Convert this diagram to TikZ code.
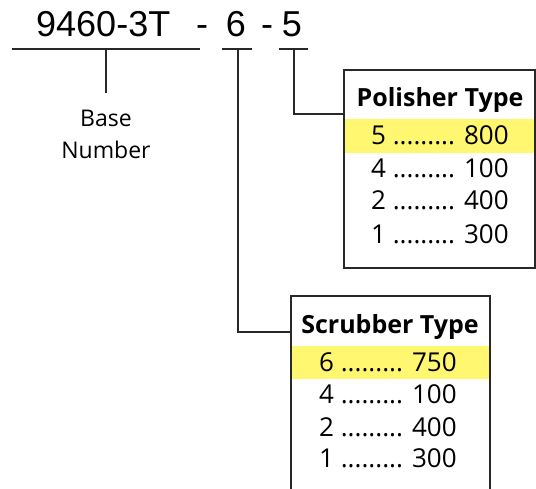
\documentclass[tikz,border=0pt]{standalone}
\usepackage{fontspec}
\setmainfont{Open Sans}
\newfontfamily\arialf{Liberation Sans}
\definecolor{hl}{RGB}{255,247,112}
\definecolor{ln}{RGB}{40,40,40}
\begin{document}
\begin{tikzpicture}[x=1bp,y=-1bp,
  big/.style={font=\arialf\fontsize{36bp}{40bp}\selectfont,inner sep=0,anchor=base},
  lbl/.style={font=\fontsize{23bp}{32bp}\selectfont,inner sep=0,anchor=base},
  row/.style={font=\fontsize{26bp}{28bp}\selectfont,inner sep=0,anchor=base west},
  ttl/.style={font=\bfseries\fontsize{25bp}{28bp}\selectfont,inner sep=0,anchor=base},
  uline/.style={line width=2bp,ln},
  conn/.style={line width=1.4bp,ln},
  boxl/.style={line width=2bp,ln}]
\useasboundingbox (0,0) rectangle (536,489);
% title
\node[big,anchor=base west] (base) at (36,37) {9460-3T};
\node[big] (d1) at (202,37) {-};
\node[big] (six) at (236,37) {6};
\node[big] (d2) at (267,37) {-};
\node[big] (five) at (292,37) {5};
\coordinate (u1a) at (12,49); \coordinate (u1b) at (200,49);
\coordinate (u2a) at (222,49); \coordinate (u2b) at (252,49);
\coordinate (u3a) at (279,49); \coordinate (u3b) at (308,49);
\draw[uline] (u1a) -- (u1b);
\draw[uline] (u2a) -- (u2b);
\draw[uline] (u3a) -- (u3b);
% base number
\coordinate (bt) at (106,49);
\coordinate (bb) at (106,93);
\node[lbl] (bn1) at (106,127) {Base};
\node[lbl] (bn2) at (106,159) {Number};
\draw[conn] (bt) -- (bb);
% polisher box
\fill[hl] (344,119) rectangle (534,153);
\node[draw,boxl,minimum width=191bp,minimum height=198bp,inner sep=0,anchor=north west] (pol) at (343,69) {};
\node[ttl] (polt) at (440,107) {Polisher Type};
\node[row] (p1) at (371,145) {5 ......... 800};
\node[row] (p2) at (371,178) {4 ......... 100};
\node[row] (p3) at (371,210) {2 ......... 400};
\node[row] (p4) at (371,243) {1 ......... 300};
\coordinate (c5) at (294,49);
\draw[conn] (c5) |- (pol.west |- 0,114);
% scrubber box
\coordinate (sbl) at (291,489);
\coordinate (stl) at (291,296);
\coordinate (str) at (490,296);
\coordinate (sbr) at (490,489);
\fill[hl] (292,346) rectangle (489,379);
\draw[boxl] (sbl) -- (stl) -- (str) -- (sbr);
\node[ttl] (scrt) at (390,333) {Scrubber Type};
\node[row] (s1) at (319,371) {6 ......... 750};
\node[row] (s2) at (319,403) {4 ......... 100};
\node[row] (s3) at (319,436) {2 ......... 400};
\node[row] (s4) at (319,467) {1 ......... 300};
\coordinate (c6) at (238,49);
\draw[conn] (c6) |- (stl |- 0,332);
\end{tikzpicture}
\end{document}
